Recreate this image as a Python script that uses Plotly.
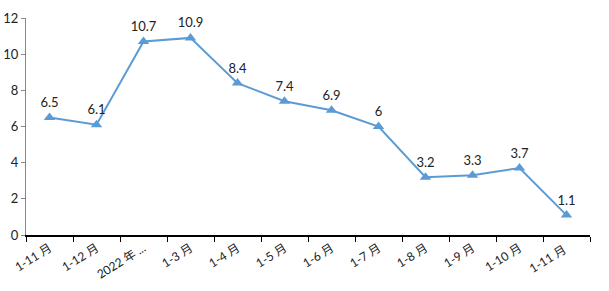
import plotly.graph_objects as go

categories = ["1-11 月", "1-12 月", "2022 年 ...", "1-3 月", "1-4 月", "1-5 月",
              "1-6 月", "1-7 月", "1-8 月", "1-9 月", "1-10 月", "1-11 月 "]
values = [6.5, 6.1, 10.7, 10.9, 8.4, 7.4, 6.9, 6, 3.2, 3.3, 3.7, 1.1]
labels = ["6.5", "6.1", "10.7", "10.9", "8.4", "7.4", "6.9", "6", "3.2", "3.3", "3.7", "1.1"]
y_ticks = [0, 2, 4, 6, 8, 10, 12]

font_family = "Lato, 'Noto Sans CJK SC', sans-serif"

fig = go.Figure()
fig.add_trace(go.Scatter(
    x=categories, y=values, mode="lines+markers+text",
    text=labels, textposition="top center",
    textfont=dict(size=13, color="#222222", family=font_family),
    line=dict(color="#5b9bd5", width=2),
    marker=dict(symbol="triangle-up", size=10, color="#5b9bd5"),
    cliponaxis=False,
))

fig.update_layout(
    width=609, height=291,
    margin=dict(l=26, r=19, t=18, b=56),
    paper_bgcolor="white", plot_bgcolor="white",
    showlegend=False,
    font=dict(family=font_family, size=12, color="#222222"),
    xaxis=dict(
        type="category", range=[-0.5, len(categories) - 0.5],
        tickson="boundaries", ticks="outside", ticklen=5,
        tickcolor="#000000", showline=True, linecolor="#000000", linewidth=1.5,
        tickangle=-32, showgrid=False, tickfont=dict(size=12), automargin=False,
    ),
    yaxis=dict(
        range=[0, 12], tickvals=y_ticks, ticks="outside", ticklen=4,
        tickcolor="#888888", showline=True, linecolor="#888888", linewidth=1,
        showgrid=False, zeroline=False, tickfont=dict(size=13), automargin=False,
    ),
)

fig.write_html("out.html")
